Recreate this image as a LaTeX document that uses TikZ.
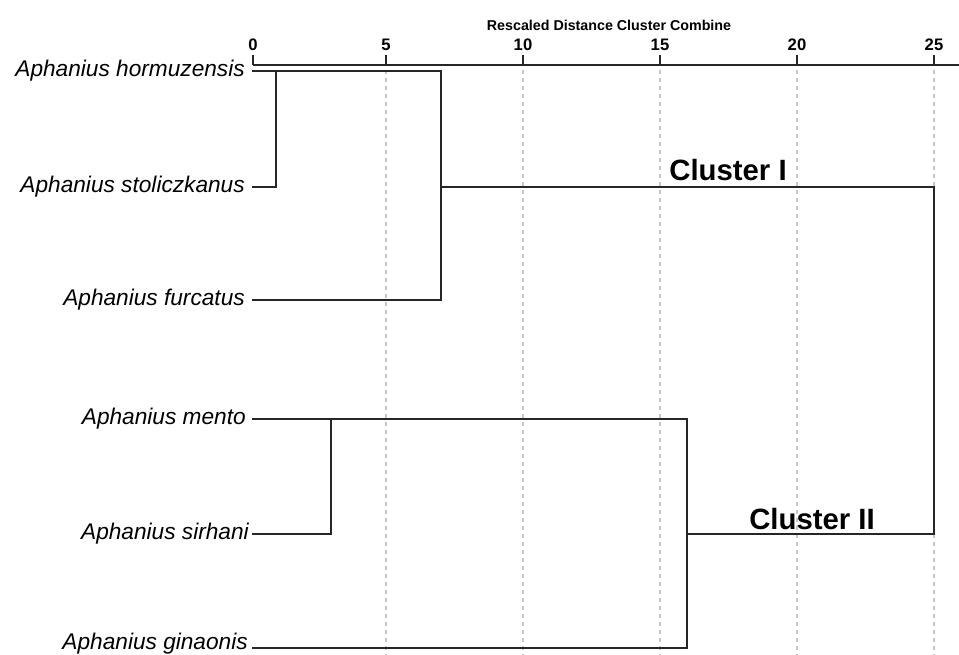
\documentclass[tikz,border=0pt]{standalone}
\usepackage{fontspec}
\setmainfont{Liberation Sans}
\begin{document}
\begin{tikzpicture}[x=0.75pt,y=-0.75pt,
  leaf/.style={font=\itshape\fontsize{17}{20}\selectfont, anchor=east, inner sep=0pt},
  br/.style={line width=1.4pt, draw=black!85, line cap=rect},
  gridln/.style={draw=black!22, dash pattern=on 3pt off 3pt, line width=0.9pt},
  ticklab/.style={font=\bfseries\fontsize{12.5}{14}\selectfont, anchor=south, inner sep=0pt},
  axisln/.style={line width=2pt, draw=black!85},
  clab/.style={font=\bfseries\fontsize{22}{26}\selectfont, inner sep=0pt}]
\useasboundingbox (0,0) rectangle (959,655);

% title
\node[font=\bfseries\fontsize{10.7}{12}\selectfont, inner sep=0pt] (title) at (609,25) {Rescaled Distance Cluster Combine};

% axis
\coordinate (ax0) at (253,65);
\coordinate (axend) at (959,65);
\draw[axisln] (ax0) -- (axend);
\foreach \v/\xx in {0/253,5/386,10/523,15/660,20/797,25/934}{
  \coordinate (tt\v) at (\xx,55);
  \coordinate (tb\v) at (\xx,65);
  \node[ticklab] (tl\v) at (\xx,51) {\v};
  \draw[line width=1.5pt, draw=black!85] (tt\v) -- (tb\v);
}
\foreach \v/\xx in {5/386,10/523,15/660,20/797,25/934}{
  \coordinate (gt\v) at (\xx,70);
  \coordinate (gb\v) at (\xx,655);
  \draw[gridln] (gt\v) -- (gb\v);
}

% leaves
\node[leaf] (hor) at (245,71) {Aphanius hormuzensis};
\node[leaf] (sto) at (245,187) {Aphanius stoliczkanus};
\node[leaf] (fur) at (245,300) {Aphanius furcatus};
\node[leaf] (men) at (246,419) {Aphanius mento};
\node[leaf] (sir) at (249,534) {Aphanius sirhani};
\node[leaf] (gin) at (248,644) {Aphanius ginaonis};

\coordinate (horS) at (253,71);
\coordinate (stoS) at (253,187);
\coordinate (furS) at (253,300);
\coordinate (menS) at (253,419);
\coordinate (sirS) at (253,534);
\coordinate (ginS) at (253,648);

% joins
\coordinate (j1t) at (276,71);
\coordinate (j1b) at (276,187);
\coordinate (j2t) at (441,71);
\coordinate (j2m) at (441,187);
\coordinate (j2b) at (441,300);
\coordinate (j3t) at (331,419);
\coordinate (j3b) at (331,534);
\coordinate (j4t) at (687,419);
\coordinate (j4m) at (687,534);
\coordinate (j4b) at (687,648);
\coordinate (r1) at (934,187);
\coordinate (r2) at (934,534);

% cluster I
\draw[br] (horS) -- (j2t);
\draw[br] (j1t) -- (j1b);
\draw[br] (stoS) -- (j1b);
\draw[br] (j2t) -- (j2b);
\draw[br] (furS) -- (j2b);
\draw[br] (j2m) -- (r1);
% cluster II
\draw[br] (menS) -- (j4t);
\draw[br] (j3t) -- (j3b);
\draw[br] (sirS) -- (j3b);
\draw[br] (j4t) -- (j4b);
\draw[br] (ginS) -- (j4b);
\draw[br] (j4m) -- (r2);
% root
\draw[br] (r1) -- (r2);

\node[clab] (c1) at (728,170) {Cluster I};
\node[clab] (c2) at (812,519) {Cluster II};
\end{tikzpicture}
\end{document}
